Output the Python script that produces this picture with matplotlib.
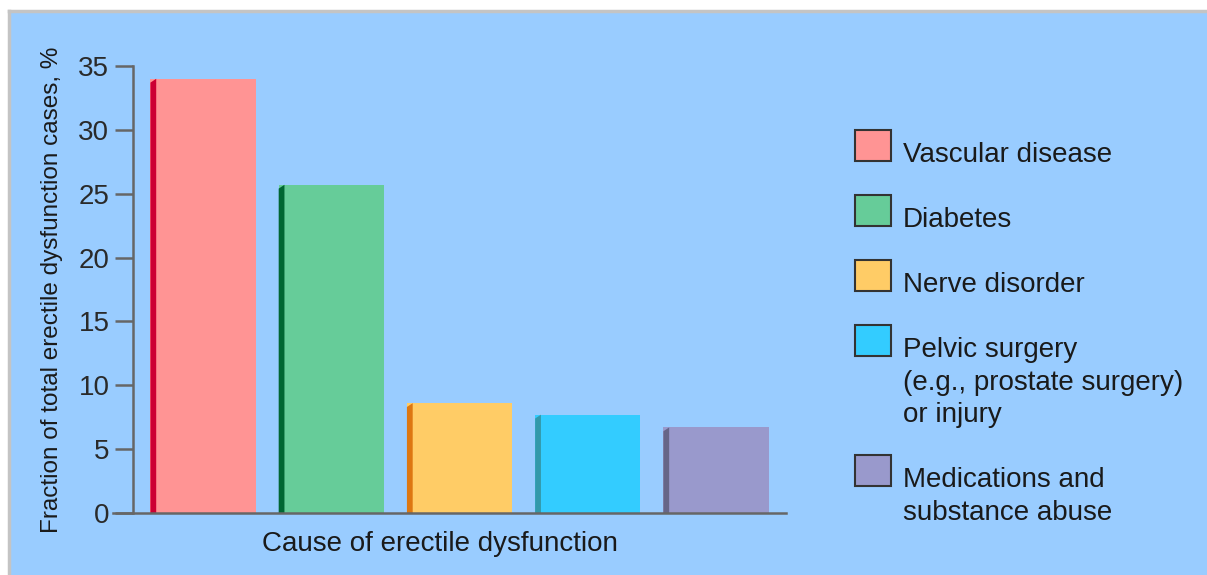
import matplotlib.pyplot as plt
from matplotlib.patches import Rectangle, Polygon
from matplotlib.lines import Line2D

# chart data
causes = ["Vascular disease", "Diabetes", "Nerve disorder",
          "Pelvic surgery\n(e.g., prostate surgery)\nor injury",
          "Medications and\nsubstance abuse"]
fractions = [34.0, 25.7, 8.6, 7.7, 6.7]
yticks = [0, 5, 10, 15, 20, 25, 30, 35]

face_colors = ["#ff9494", "#66cc99", "#ffcc66", "#33ccff", "#9999cc"]
edge_colors = ["#cc0033", "#006633", "#dd7711", "#3399aa", "#666688"]

W, H = 1207, 575
plt.rcParams['font.family'] = ['Liberation Sans', 'DejaVu Sans']

def fx(x):
  return x / W

def fy(y):
  return 1 - y / H

fig = plt.figure(figsize=(W / 100, H / 100), dpi=100)
fig.patch.set_facecolor("white")
# blue panel with a grey border on its top and left only
fig.add_artist(Rectangle((fx(9), 0), 1 - fx(9), fy(11), transform=fig.transFigure,
                         facecolor="#99ccff", edgecolor="none", zorder=-10))
fig.add_artist(Line2D([fx(9), 1], [fy(11), fy(11)], transform=fig.transFigure,
                      color="#c4c4c4", linewidth=2.5, zorder=-9))
fig.add_artist(Line2D([fx(9), fx(9)], [0, fy(11)], transform=fig.transFigure,
                      color="#c4c4c4", linewidth=2.5, zorder=-9))

ax = fig.add_axes([fx(113), fy(513), fx(786) - fx(113), fy(66) - fy(513)])
ax.patch.set_visible(False)

x = list(range(len(fractions)))
bar_w = 0.82
ax.bar(x, fractions, width=bar_w, color=face_colors, linewidth=0, zorder=2)

# darker left face of each bar
strip = 0.045
for xi, v, ec in zip(x, fractions, edge_colors):
  x0 = xi - bar_w / 2
  ax.add_patch(Polygon([(x0, 0), (x0, v - 0.3), (x0 + strip, v), (x0 + strip, 0)],
                       closed=True, facecolor=ec, edgecolor="none", zorder=3))

ax.set_xlim(-0.702, 4.546)
ax.set_ylim(0, 35)
ax.set_yticks(yticks)
ax.set_xticks([])

for s in ["top", "right"]:
  ax.spines[s].set_visible(False)
ax.spines["left"].set_position(("axes", 20 / 673))
ax.spines["left"].set_bounds(0, 35)
for s in ["left", "bottom"]:
  ax.spines[s].set_color("#666666")
  ax.spines[s].set_linewidth(1.8)
ax.spines["bottom"].set_zorder(4)
ax.tick_params(axis="y", direction="out", length=13, width=1.8, color="#666666",
               labelsize=20, labelcolor="#2a2a2a", pad=4)

fig.text(fx(440), fy(551), "Cause of erectile dysfunction", ha="center", va="baseline",
         fontsize=20, color="#1a1a1a")
fig.text(fx(52), fy(290), "Fraction of total erectile dysfunction cases, %", rotation=90,
         ha="center", va="center", fontsize=17.5, color="#1a1a1a")

# legend drawn by hand
top = 130
for label, fc, ec in zip(causes, face_colors, edge_colors):
  lines = label.split("\n")
  fig.add_artist(Rectangle((fx(855), fy(top + 31)), fx(36), 31 / H, transform=fig.transFigure,
                           facecolor=fc, edgecolor="#333333", linewidth=1.5))
  for i, line in enumerate(lines):
    fig.text(fx(903), fy(top + 32 + i * 32.5), line, ha="left", va="baseline",
             fontsize=20, color="#1a1a1a")
  top += 65 + (len(lines) - 1) * 32.5

fig.savefig("out.png", dpi=100)
